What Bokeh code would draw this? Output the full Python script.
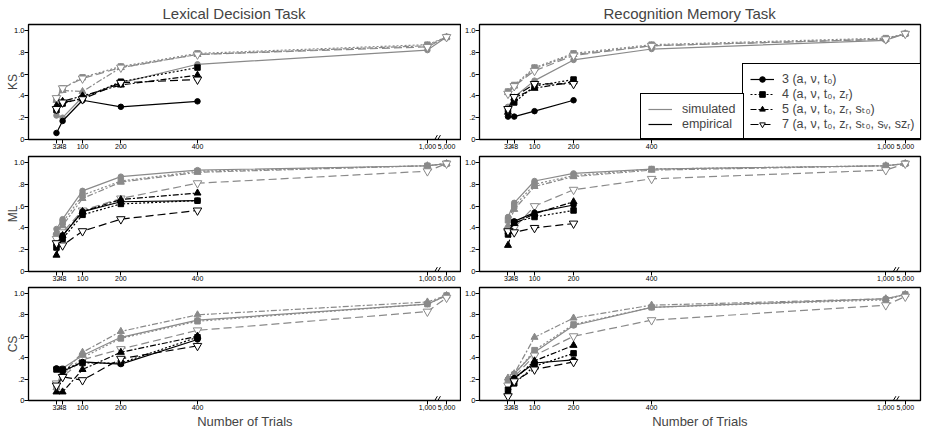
from bokeh.plotting import figure
from bokeh.models import Range1d, FixedTicker, Legend, LegendItem
from bokeh.layouts import row, column
from bokeh.embed import file_html
from bokeh.resources import INLINE

# ---------------- data ----------------
trials = [32, 48, 100, 200, 400, 1000, 5000]
emp_trials_ldt = [32, 48, 100, 200, 400]
emp_trials_rmt = [32, 48, 100, 200]
x_tick_values = [32, 48, 100, 200, 400, 1000, 5000]
x_tick_labels = ["32", "48", "100", "200", "400", "1,000", "5,000"]
y_tick_values = [0, 0.2, 0.4, 0.6, 0.8, 1.0]
y_tick_labels = ["0", ".2", ".4", ".6", ".8", "1.0"]

models = ["3", "4", "5", "7"]
model_labels = [
    "3 (a, \u03bd, t\u2080)",
    "4 (a, \u03bd, t\u2080, z\u1d63)",
    "5 (a, \u03bd, t\u2080, z\u1d63, s\u209c\u2080)",
    "7 (a, \u03bd, t\u2080, z\u1d63, s\u209c\u2080, s\u1d65, s\u1d22\u1d63)",
]
source_labels = ["simulated", "empirical"]
task_titles = ["Lexical Decision Task", "Recognition Memory Task"]
measure_labels = ["KS", "ML", "CS"]

# Lexical decision task - KS
ldt_ks_sim3 = [0.22, 0.20, 0.39, 0.52, 0.69, 0.82, 0.94]
ldt_ks_sim4 = [0.37, 0.47, 0.57, 0.67, 0.79, 0.87, 0.94]
ldt_ks_sim5 = [0.36, 0.45, 0.44, 0.66, 0.78, 0.86, 0.94]
ldt_ks_sim7 = [0.38, 0.47, 0.56, 0.66, 0.78, 0.85, 0.94]
ldt_ks_emp3 = [0.06, 0.17, 0.36, 0.30, 0.35]
ldt_ks_emp4 = [0.27, 0.33, 0.38, 0.53, 0.66]
ldt_ks_emp5 = [0.31, 0.35, 0.40, 0.50, 0.59]
ldt_ks_emp7 = [0.28, 0.34, 0.37, 0.52, 0.55]
# Lexical decision task - ML
ldt_ml_sim3 = [0.39, 0.48, 0.74, 0.87, 0.93, 0.97, 0.99]
ldt_ml_sim4 = [0.33, 0.45, 0.70, 0.83, 0.92, 0.97, 0.99]
ldt_ml_sim5 = [0.36, 0.42, 0.67, 0.82, 0.91, 0.97, 0.99]
ldt_ml_sim7 = [0.30, 0.36, 0.56, 0.67, 0.81, 0.92, 0.99]
ldt_ml_emp3 = [0.25, 0.33, 0.55, 0.64, 0.65]
ldt_ml_emp4 = [0.22, 0.30, 0.52, 0.62, 0.65]
ldt_ml_emp5 = [0.15, 0.33, 0.55, 0.66, 0.72]
ldt_ml_emp7 = [0.26, 0.24, 0.37, 0.48, 0.56]
# Lexical decision task - CS
ldt_cs_sim3 = [0.13, 0.30, 0.42, 0.59, 0.75, 0.90, 0.98]
ldt_cs_sim4 = [0.15, 0.24, 0.40, 0.58, 0.74, 0.90, 0.98]
ldt_cs_sim5 = [0.12, 0.25, 0.45, 0.645, 0.80, 0.92, 0.98]
ldt_cs_sim7 = [0.16, 0.22, 0.38, 0.48, 0.655, 0.83, 0.96]
ldt_cs_emp3 = [0.30, 0.27, 0.36, 0.34, 0.57]
ldt_cs_emp4 = [0.29, 0.29, 0.35, 0.35, 0.59]
ldt_cs_emp5 = [0.08, 0.08, 0.29, 0.45, 0.60]
ldt_cs_emp7 = [0.14, 0.22, 0.19, 0.39, 0.51]

# Recognition memory task - KS
rmt_ks_sim3 = [0.30, 0.39, 0.54, 0.73, 0.83, 0.91, 0.97]
rmt_ks_sim4 = [0.44, 0.50, 0.66, 0.79, 0.87, 0.93, 0.97]
rmt_ks_sim5 = [0.43, 0.49, 0.65, 0.78, 0.86, 0.92, 0.97]
rmt_ks_sim7 = [0.42, 0.49, 0.63, 0.77, 0.86, 0.92, 0.97]
rmt_ks_emp3 = [0.21, 0.21, 0.26, 0.36]
rmt_ks_emp4 = [0.27, 0.34, 0.49, 0.55]
rmt_ks_emp5 = [0.25, 0.38, 0.47, 0.53]
rmt_ks_emp7 = [0.28, 0.39, 0.51, 0.51]
# Recognition memory task - ML
rmt_ml_sim3 = [0.50, 0.63, 0.83, 0.90, 0.94, 0.97, 0.99]
rmt_ml_sim4 = [0.47, 0.60, 0.80, 0.88, 0.94, 0.97, 0.99]
rmt_ml_sim5 = [0.42, 0.57, 0.78, 0.87, 0.93, 0.97, 0.99]
rmt_ml_sim7 = [0.36, 0.40, 0.60, 0.75, 0.85, 0.93, 0.99]
rmt_ml_emp3 = [0.35, 0.46, 0.54, 0.61]
rmt_ml_emp4 = [0.34, 0.45, 0.50, 0.56]
rmt_ml_emp5 = [0.24, 0.44, 0.53, 0.64]
rmt_ml_emp7 = [0.37, 0.36, 0.40, 0.44]
# Recognition memory task - CS
rmt_cs_sim3 = [0.20, 0.25, 0.45, 0.70, 0.87, 0.95, 0.99]
rmt_cs_sim4 = [0.17, 0.24, 0.47, 0.71, 0.87, 0.94, 0.99]
rmt_cs_sim5 = [0.21, 0.25, 0.59, 0.77, 0.89, 0.95, 0.99]
rmt_cs_sim7 = [0.14, 0.22, 0.42, 0.60, 0.75, 0.89, 0.97]
rmt_cs_emp3 = [0.07, 0.21, 0.35, 0.38]
rmt_cs_emp4 = [0.10, 0.16, 0.32, 0.44]
rmt_cs_emp5 = [0.07, 0.20, 0.37, 0.515]
rmt_cs_emp7 = [0.04, 0.18, 0.29, 0.36]

panels = [
    [  # row KS
        ([ldt_ks_sim3, ldt_ks_sim4, ldt_ks_sim5, ldt_ks_sim7],
         [ldt_ks_emp3, ldt_ks_emp4, ldt_ks_emp5, ldt_ks_emp7], emp_trials_ldt),
        ([rmt_ks_sim3, rmt_ks_sim4, rmt_ks_sim5, rmt_ks_sim7],
         [rmt_ks_emp3, rmt_ks_emp4, rmt_ks_emp5, rmt_ks_emp7], emp_trials_rmt),
    ],
    [  # row ML
        ([ldt_ml_sim3, ldt_ml_sim4, ldt_ml_sim5, ldt_ml_sim7],
         [ldt_ml_emp3, ldt_ml_emp4, ldt_ml_emp5, ldt_ml_emp7], emp_trials_ldt),
        ([rmt_ml_sim3, rmt_ml_sim4, rmt_ml_sim5, rmt_ml_sim7],
         [rmt_ml_emp3, rmt_ml_emp4, rmt_ml_emp5, rmt_ml_emp7], emp_trials_rmt),
    ],
    [  # row CS
        ([ldt_cs_sim3, ldt_cs_sim4, ldt_cs_sim5, ldt_cs_sim7],
         [ldt_cs_emp3, ldt_cs_emp4, ldt_cs_emp5, ldt_cs_emp7], emp_trials_ldt),
        ([rmt_cs_sim3, rmt_cs_sim4, rmt_cs_sim5, rmt_cs_sim7],
         [rmt_cs_emp3, rmt_cs_emp4, rmt_cs_emp5, rmt_cs_emp7], emp_trials_rmt),
    ],
]

# ---------------- styling ----------------
GRAY = "#8a8a8a"
BLACK = "#000000"
FONT = "Liberation Sans, Arial, DejaVu Sans"
BREAK_LAST = 1000      # last value before the axis break
BREAK_POS = 1050       # axis position at which 5,000 is drawn

dash_of = {"3": "solid", "4": "2 2", "5": "6 2 2 2", "7": "8 4"}
marker_of = {"3": "circle", "4": "square", "5": "triangle", "7": "inverted_triangle"}
size_of = {"3": 5.5, "4": 5.5, "5": 7, "7": 8.5}


def axis_x(values):
    return [v if v <= BREAK_LAST else BREAK_POS for v in values]


ROW_TOP = [24, 4, 3]
ROW_FRAME = [115, 115, 116]
ROW_BOTTOM = [13, 13, 28]
COL_W = [461, 463]
COL_LEFT = [28, 18]
COL_RIGHT = [0, 4]
TITLE_SHIFT = [134, 124]


def make_panel(r, c):
    top, frame_h, bottom = ROW_TOP[r], ROW_FRAME[r], ROW_BOTTOM[r]
    p = figure(width=COL_W[c], height=top + frame_h + bottom, output_backend="svg",
               toolbar_location=None,
               x_range=Range1d(-41, 1089), y_range=Range1d(0, 1.055),
               min_border_left=COL_LEFT[c], min_border_right=COL_RIGHT[c],
               min_border_top=top, min_border_bottom=bottom)
    p.xgrid.visible = False
    p.ygrid.visible = False
    p.outline_line_color = BLACK
    p.outline_line_width = 1.3
    p.outline_line_alpha = 1
    p.background_fill_color = "white"
    p.border_fill_color = "white"
    if r == 0:
        p.title.text = task_titles[c]
        p.title.align = "left"
        p.title.text_font = FONT
        p.title.text_font_size = "15px"
        p.title.text_font_style = "normal"
        p.title.standoff = 5
        p.title.offset = TITLE_SHIFT[c]
    tick_pos = axis_x(x_tick_values)
    p.xaxis.ticker = FixedTicker(ticks=tick_pos)
    p.xaxis.major_label_overrides = {tp: lab for tp, lab in zip(tick_pos, x_tick_labels)}
    p.yaxis.ticker = FixedTicker(ticks=y_tick_values)
    p.yaxis.major_label_overrides = {v: lab for v, lab in zip(y_tick_values, y_tick_labels)}
    for ax in (p.xaxis[0], p.yaxis[0]):
        ax.major_tick_out = 4
        ax.major_tick_in = 0
        ax.minor_tick_out = 0
        ax.minor_tick_in = 0
        ax.major_label_text_font = FONT
        ax.major_label_standoff = 0
        ax.axis_line_color = BLACK
        ax.major_tick_line_color = BLACK
        ax.major_label_text_color = BLACK
    p.xaxis.major_label_text_font_size = "7px"
    p.yaxis.major_label_text_font_size = "7.5px"
    if c == 0:
        p.yaxis.axis_label = measure_labels[r]
        p.yaxis.axis_label_text_font = FONT
        p.yaxis.axis_label_text_font_size = "12px"
        p.yaxis.axis_label_text_font_style = "normal"
        p.yaxis.axis_label_standoff = -9
    if r == 2:
        p.xaxis.axis_label = "Number of Trials"
        p.xaxis.axis_label_text_font = FONT
        p.xaxis.axis_label_text_font_size = "13px"
        p.xaxis.axis_label_text_font_style = "normal"
        p.xaxis.axis_label_standoff = 1

    sims, emps, emp_x = panels[r][c]
    sim_lines, emp_lines, emp_marks = [], [], []
    xs = axis_x(trials)
    for m, ys in zip(models, sims):
        ln = p.line(xs, ys, line_color=GRAY, line_width=1.2, line_dash=dash_of[m])
        fill = "white" if m == "7" else GRAY
        p.scatter(xs, ys, marker=marker_of[m], size=size_of[m],
                  fill_color=fill, line_color=GRAY, line_width=1)
        sim_lines.append(ln)
    ex = axis_x(emp_x)
    for m, ys in zip(models, emps):
        ln = p.line(ex, ys, line_color=BLACK, line_width=1.2, line_dash=dash_of[m])
        fill = "white" if m == "7" else BLACK
        sc = p.scatter(ex, ys, marker=marker_of[m], size=size_of[m],
                       fill_color=fill, line_color=BLACK, line_width=1)
        emp_lines.append(ln)
        emp_marks.append(sc)

    # axis-break marks between 1,000 and 5,000
    mid = (BREAK_LAST + BREAK_POS) / 2.0
    p.segment(x0=[mid - 9, mid - 1], y0=[-0.02, -0.02],
              x1=[mid + 1, mid + 9], y1=[0.04, 0.04],
              line_color=BLACK, line_width=1)

    if r == 0 and c == 1:
        common = dict(border_line_color=BLACK, border_line_width=1.3,
                      border_line_alpha=1, background_fill_alpha=1,
                      label_text_font=FONT, label_text_font_size="12.5px",
                      glyph_width=24, glyph_height=14, label_height=15,
                      spacing=0, padding=7, margin=0)
        leg_models = Legend(items=[LegendItem(label=lab, renderers=[ln, sc])
                                   for lab, ln, sc in zip(model_labels, emp_lines, emp_marks)],
                            location=(263, 0), label_standoff=8, label_width=132, **common)
        leg_src = Legend(items=[LegendItem(label=source_labels[0], renderers=[sim_lines[0]]),
                                LegendItem(label=source_labels[1], renderers=[emp_lines[0]])],
                         location=(161, 0), label_standoff=10, label_width=54, **common)
        p.add_layout(leg_models)
        p.add_layout(leg_src)
    return p


rows = [row(make_panel(r, 0), make_panel(r, 1)) for r in range(3)]
layout = column(*rows)
open("out.html", "w").write(file_html(layout, INLINE))
